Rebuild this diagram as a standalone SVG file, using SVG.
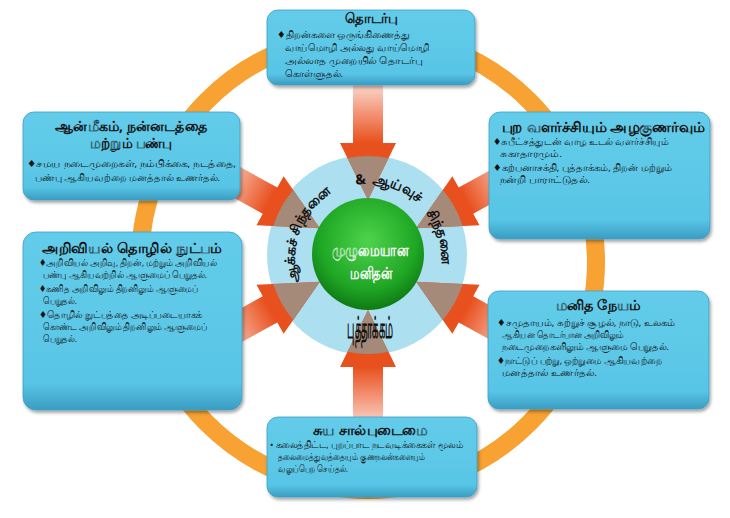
<svg xmlns="http://www.w3.org/2000/svg" width="730" height="518" viewBox="0 0 730 518">
<defs>
<style>
.box{fill:url(#boxg);stroke:#3C9EC4;stroke-width:0.8;filter:url(#sh)}
.ttl{font-family:"Noto Sans","DejaVu Sans",sans-serif;font-weight:bold;font-size:13.5px;fill:#111;text-anchor:middle}
.bd{font-family:"Noto Sans","DejaVu Sans",sans-serif;font-size:9.5px;fill:#111}
.arrow{fill:url(#arg)}
.tip{fill:#A58A7A}
.ctr{font-family:"Noto Sans","DejaVu Sans",sans-serif;font-weight:bold;fill:#111}
.wt{font-family:"Noto Sans","DejaVu Sans",sans-serif;font-weight:bold;font-size:17px;fill:#fff;text-anchor:middle}
</style>
<linearGradient id="boxg" x1="0" y1="0" x2="0" y2="1">
<stop offset="0" stop-color="#64CCEA"/>
<stop offset="0.85" stop-color="#58C5E6"/>
<stop offset="1" stop-color="#3A9CC2"/>
</linearGradient>
<linearGradient id="arg" gradientUnits="userSpaceOnUse" x1="175" y1="0" x2="112" y2="0">
<stop offset="0" stop-color="#FBE3DC"/>
<stop offset="0.5" stop-color="#F3987A"/>
<stop offset="1" stop-color="#E8501E"/>
</linearGradient>
<radialGradient id="gg" cx="0.5" cy="0.38" r="0.62">
<stop offset="0" stop-color="#4ED44C"/>
<stop offset="0.7" stop-color="#1FA624"/>
<stop offset="1" stop-color="#0E7A14"/>
</radialGradient>
<clipPath id="cc"><circle cx="0" cy="0" r="99"/></clipPath>
<filter id="sh" x="-10%" y="-10%" width="125%" height="130%">
<feDropShadow dx="1.5" dy="2.5" stdDeviation="1.5" flood-color="#000" flood-opacity="0.35"/>
</filter>
<path id="arc" d="M 308.2 298.9 A 73 73 0 1 1 427.8 298.9"/>
</defs>
<rect width="730" height="518" fill="#fff"/>
<circle id="ring" cx="368" cy="262" r="228" fill="none" stroke="#F7A232" stroke-width="18"/>
<g id="hub-ring"><circle cx="367" cy="255" r="100" fill="#ACDFF0"/></g>
<g id="connectors" transform="translate(368,255)">
<g transform="rotate(-90)"><path class="arrow" d="M55 0L112 -28L112 -15L175 -15L175 15L112 15L112 28Z"/><path class="tip" clip-path="url(#cc)" d="M55 0L112 -28L112 28Z"/></g>
<g transform="rotate(-29)"><path class="arrow" d="M55 0L112 -28L112 -15L175 -15L175 15L112 15L112 28Z"/><path class="tip" clip-path="url(#cc)" d="M55 0L112 -28L112 28Z"/></g>
<g transform="rotate(29)"><path class="arrow" d="M55 0L112 -28L112 -15L175 -15L175 15L112 15L112 28Z"/><path class="tip" clip-path="url(#cc)" d="M55 0L112 -28L112 28Z"/></g>
<g transform="rotate(90)"><path class="arrow" d="M55 0L112 -28L112 -15L175 -15L175 15L112 15L112 28Z"/><path class="tip" clip-path="url(#cc)" d="M55 0L112 -28L112 28Z"/></g>
<g transform="rotate(151)"><path class="arrow" d="M55 0L112 -28L112 -15L175 -15L175 15L112 15L112 28Z"/><path class="tip" clip-path="url(#cc)" d="M55 0L112 -28L112 28Z"/></g>
<g transform="rotate(209)"><path class="arrow" d="M55 0L112 -28L112 -15L175 -15L175 15L112 15L112 28Z"/><path class="tip" clip-path="url(#cc)" d="M55 0L112 -28L112 28Z"/></g>
</g>
<g id="hub">
<circle cx="368" cy="254" r="56" fill="url(#gg)"/>
<text class="wt" x="370" y="256" textLength="76" lengthAdjust="spacingAndGlyphs">முழுமையான</text>
<text class="wt" x="371" y="279" textLength="42" lengthAdjust="spacingAndGlyphs">மனிதன்</text>
<text class="ctr" font-size="14"><textPath href="#arc" startOffset="41" text-anchor="middle">ஆக்கச்</textPath></text>
<text class="ctr" font-size="14"><textPath href="#arc" startOffset="94" text-anchor="middle">சிந்தனை</textPath></text>
<text class="ctr" font-size="14"><textPath href="#arc" startOffset="152" text-anchor="middle">&amp;</textPath></text>
<text class="ctr" font-size="14"><textPath href="#arc" startOffset="188" text-anchor="middle">ஆய்வுச்</textPath></text>
<text class="ctr" font-size="14"><textPath href="#arc" startOffset="254" text-anchor="middle">சிந்தனை</textPath></text>
<text class="ctr" transform="translate(370,338) scale(1,1.6)" font-size="19" text-anchor="middle" textLength="46" lengthAdjust="spacingAndGlyphs">புத்தாக்கம்</text>
</g>
<g id="n-top">
<rect class="box" x="267" y="10" width="208" height="75" rx="11"/>
<text class="ttl" x="371" y="23" font-size="11.5" textLength="52" lengthAdjust="spacingAndGlyphs">தொடர்பு</text>
<text class="bd" x="277" y="38" textLength="133" lengthAdjust="spacingAndGlyphs">♦திறன்களை ஒருங்கிணைத்து</text>
<text class="bd" x="285" y="51" textLength="145" lengthAdjust="spacingAndGlyphs">வாய்மொழி அல்லது வாய்மொழி</text>
<text class="bd" x="285" y="64" textLength="137" lengthAdjust="spacingAndGlyphs">அல்லாத முறையில் தொடர்பு</text>
<text class="bd" x="285" y="77" textLength="58" lengthAdjust="spacingAndGlyphs">கொள்ளுதல்.</text>
</g>
<g id="n-ul">
<rect class="box" x="23" y="112" width="217" height="88" rx="11"/>
<text class="ttl" x="131" y="131" font-size="12.5" textLength="152" lengthAdjust="spacingAndGlyphs">ஆன்மீகம், நன்னடத்தை</text>
<text class="ttl" x="131" y="148" font-size="12.5" textLength="82" lengthAdjust="spacingAndGlyphs">மற்றும் பண்பு</text>
<text class="bd" x="27" y="167" textLength="209" lengthAdjust="spacingAndGlyphs">♦சமய நடைமுறைகள், நம்பிக்கை, நடத்தை,</text>
<text class="bd" x="35" y="181" textLength="185" lengthAdjust="spacingAndGlyphs">பண்பு ஆகியவற்றை மனத்தால் உணர்தல்.</text>
</g>
<g id="n-ur">
<rect class="box" x="489" y="112" width="221" height="127" rx="11"/>
<text class="ttl" x="603" y="132" textLength="203" lengthAdjust="spacingAndGlyphs">புற வளர்ச்சியும் அழகுணர்வும்</text>
<text class="bd" x="493" y="145" textLength="176" lengthAdjust="spacingAndGlyphs">♦சுபீட்சத்துடன் வாழ உடல் வளர்ச்சியும்</text>
<text class="bd" x="500" y="157" textLength="62" lengthAdjust="spacingAndGlyphs">சுகாதாரமும்.</text>
<text class="bd" x="493" y="171" textLength="179" lengthAdjust="spacingAndGlyphs">♦கற்பனாசக்தி, புத்தாக்கம், திறன் மற்றும்</text>
<text class="bd" x="500" y="183" textLength="90" lengthAdjust="spacingAndGlyphs">நன்றி பாராட்டுதல்.</text>
</g>
<g id="n-ll">
<rect class="box" x="23" y="232" width="219" height="178" rx="13"/>
<text class="ttl" x="132" y="253" textLength="180" lengthAdjust="spacingAndGlyphs">அறிவியல் தொழில் நுட்பம்</text>
<text class="bd" x="39" y="266" textLength="178" lengthAdjust="spacingAndGlyphs">♦அறிவியல் அறிவு, திறன், மற்றும் அறிவியல்</text>
<text class="bd" x="43" y="278" textLength="164" lengthAdjust="spacingAndGlyphs">பண்பு ஆகியவற்றில் ஆளுமைப் பெறுதல்.</text>
<text class="bd" x="39" y="292" textLength="159" lengthAdjust="spacingAndGlyphs">♦கணித அறிவிலும் திறனிலும் ஆளுமைப்</text>
<text class="bd" x="43" y="304" textLength="34" lengthAdjust="spacingAndGlyphs">பெறுதல்.</text>
<text class="bd" x="39" y="318" textLength="163" lengthAdjust="spacingAndGlyphs">♦தொழில் நுட்பத்தை அடிப்படையாகக்</text>
<text class="bd" x="43" y="330" textLength="164" lengthAdjust="spacingAndGlyphs">கொண்ட அறிவிலும் திறனிலும் ஆளுமைப்</text>
<text class="bd" x="43" y="342" textLength="34" lengthAdjust="spacingAndGlyphs">பெறுதல்.</text>
</g>
<g id="n-lr">
<rect class="box" x="488" y="291" width="221" height="118" rx="11"/>
<text class="ttl" x="598" y="310" textLength="85" lengthAdjust="spacingAndGlyphs">மனித நேயம்</text>
<text class="bd" x="497" y="326" textLength="178" lengthAdjust="spacingAndGlyphs">♦சமுதாயம், சுற்றுச் சூழல், நாடு, உலகம்</text>
<text class="bd" x="502" y="338" textLength="122" lengthAdjust="spacingAndGlyphs">ஆகியன தொடர்பான அறிவிலும்</text>
<text class="bd" x="502" y="350" textLength="167" lengthAdjust="spacingAndGlyphs">நடைமுறைகளிலும் ஆளுமை பெறுதல்.</text>
<text class="bd" x="497" y="364" textLength="165" lengthAdjust="spacingAndGlyphs">♦நாட்டுப் பற்று, ஒற்றுமை ஆகியவற்றை</text>
<text class="bd" x="502" y="376" textLength="95" lengthAdjust="spacingAndGlyphs">மனத்தால் உணர்தல்.</text>
</g>
<g id="n-bot">
<rect class="box" x="267" y="417" width="210" height="80" rx="11"/>
<text class="ttl" x="370" y="435" font-size="13" textLength="114" lengthAdjust="spacingAndGlyphs">சுய சால்புடைமை</text>
<text class="bd" x="270" y="448" textLength="193" lengthAdjust="spacingAndGlyphs">• கலைத்திட்ட, புறப்பாட நடவடிக்கைகள் மூலம்</text>
<text class="bd" x="278" y="460" textLength="147" lengthAdjust="spacingAndGlyphs">தலைமைத்துவத்தையும் குணநலன்களையும்</text>
<text class="bd" x="278" y="472" textLength="70" lengthAdjust="spacingAndGlyphs">வலுப்பெற செய்தல்.</text>
</g>
</svg>
